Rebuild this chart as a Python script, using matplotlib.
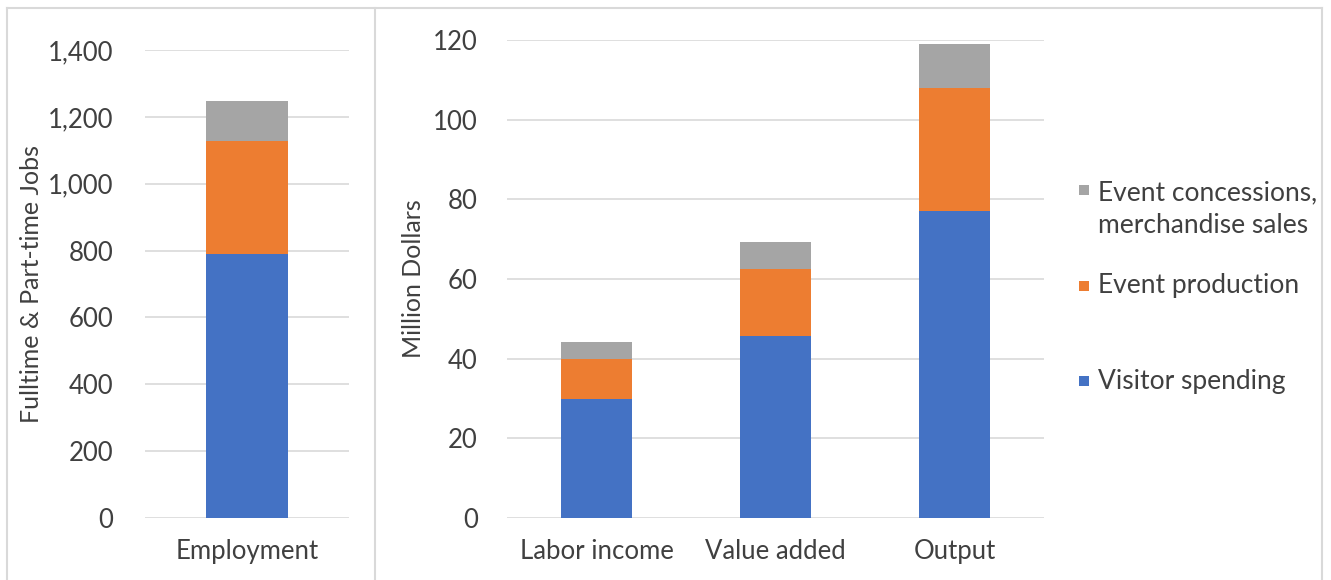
import numpy as np
import matplotlib.pyplot as plt
from matplotlib.patches import Rectangle
from matplotlib.lines import Line2D

plt.rcParams['font.family'] = ['Lato', 'DejaVu Sans']

emp_cats = ['Employment']
emp_visitor = [790]
emp_production = [337]
emp_concessions = [120]

money_cats = ['Labor income', 'Value added', 'Output']
money_visitor = [29.8, 45.8, 77.1]
money_production = [10.0, 16.7, 30.9]
money_concessions = [4.5, 6.8, 11.1]

series_names = ['Visitor spending', 'Event production', 'Event concessions,\nmerchandise sales']
colors = ['#4472C4', '#ED7D31', '#A5A5A5']
grid_c = '#d9d9d9'
text_c = '#404040'
fs = 18.5
lab_fs = 18
leg_fs = 19

W, H = 1331, 580
fig = plt.figure(figsize=(W / 100, H / 100), dpi=100)

def px(x0, y0, x1, y1):
    return [x0 / W, 1 - y1 / H, (x1 - x0) / W, (y1 - y0) / H]

def stack(ax, cats, parts, ymax, step, fmt):
    x = np.arange(len(cats))
    bottom = np.zeros(len(cats))
    for vals, c in zip(parts, colors):
        ax.bar(x, vals, 0.4, bottom=bottom, color=c, zorder=3)
        bottom += np.array(vals)
    ax.set_xlim(-0.5, len(cats) - 0.5)
    ax.set_ylim(0, ymax)
    ax.set_yticks(np.arange(0, ymax + 1, step))
    ax.yaxis.set_major_formatter(plt.FuncFormatter(fmt))
    ax.set_xticks(x)
    ax.set_xticklabels(cats)
    ax.grid(axis='y', color=grid_c, linewidth=1.2, zorder=0)
    for s in ax.spines.values():
        s.set_visible(False)
    ax.tick_params(length=0, labelsize=fs, colors=text_c)
    ax.tick_params(axis='x', pad=15)

ax1 = fig.add_axes(px(145, 50, 349, 518))
stack(ax1, emp_cats, [emp_visitor, emp_production, emp_concessions], 1400, 200,
      lambda v, p: f'{int(v):,}')
ax1.tick_params(axis='y', pad=23)
ax1.set_ylabel('Fulltime & Part-time Jobs', fontsize=lab_fs, color=text_c)
ax1.yaxis.set_label_coords((43 - 145) / 204, 0.5)

ax2 = fig.add_axes(px(507, 40, 1044, 518))
stack(ax2, money_cats, [money_visitor, money_production, money_concessions], 120, 20,
      lambda v, p: f'{int(v)}')
ax2.tick_params(axis='y', pad=21)
ax2.set_ylabel('Million Dollars', fontsize=lab_fs, color=text_c)
ax2.yaxis.set_label_coords((425 - 507) / 537, 0.5)

# legend, laid out like the original (uneven row gaps)
leg_rows = [(2, 190, 209), (1, 286, 286), (0, 381, 381)]
for i, y_mark, y_text in leg_rows:
    fig.patches.append(Rectangle((1079 / W, 1 - (y_mark + 5) / H), 10 / W, 10 / H,
                                 facecolor=colors[i], transform=fig.transFigure))
    fig.text(1098 / W, 1 - y_text / H, series_names[i], fontsize=leg_fs, color=text_c,
             va='center', ha='left', linespacing=1.4)

# chart frames
for xs, ys in [([7, 1322], [8, 8]), ([375, 375], [8, 580]),
               ([1322, 1322], [8, 580]), ([7, 7], [8, 580])]:
    fig.add_artist(Line2D([x / W for x in xs], [1 - y / H for y in ys],
                          color=grid_c, linewidth=1.5))

fig.savefig('out.png', dpi=100)
